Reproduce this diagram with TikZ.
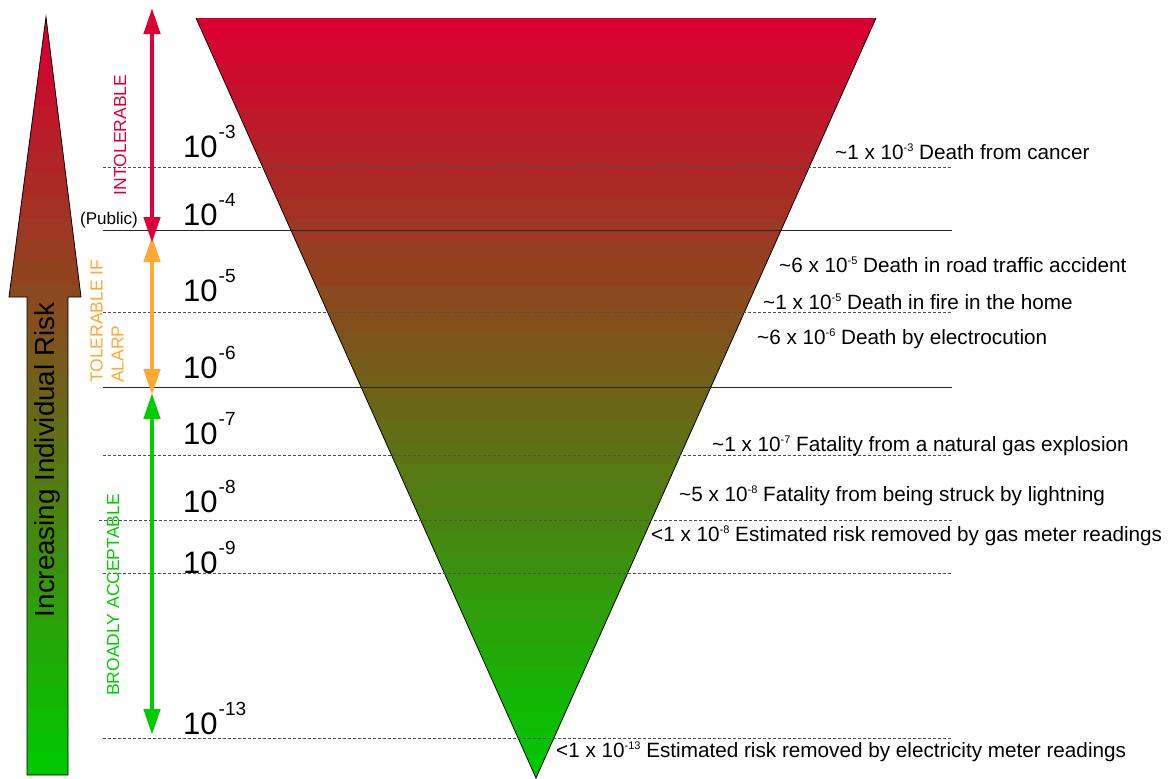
\documentclass[tikz,border=0pt]{standalone}
\usepackage{fontspec}
\setmainfont{Liberation Sans}
\usetikzlibrary{arrows.meta}
\definecolor{riskred}{RGB}{217,0,48}
\definecolor{riskgreen}{RGB}{0,200,0}
\definecolor{intol}{RGB}{220,0,55}
\definecolor{alarp}{RGB}{255,168,52}
\definecolor{broad}{RGB}{0,204,0}
\definecolor{dashgray}{RGB}{80,80,80}
\newcommand{\bigexp}[1]{\fontsize{31}{31}\selectfont 10\hspace{1pt}\raisebox{18.5pt}{\fontsize{19}{19}\selectfont -#1}}
\newcommand{\smexp}[1]{\raisebox{8pt}{\fontsize{11}{11}\selectfont #1}}
\newcommand{\tld}{\textasciitilde}
\tikzset{
  dashline/.style={dashgray, line width=1pt, dash pattern=on 3pt off 2pt},
  solidline/.style={black!85, line width=1pt},
  expolabel/.style={anchor=base west, inner sep=0pt},
  risklabel/.style={anchor=base west, inner sep=0pt, font=\fontsize{20.7}{20.7}\selectfont},
  zonelabel/.style={rotate=90, inner sep=0pt, font=\fontsize{17.5}{21}\selectfont},
  zonearrow/.style={line width=4.5pt, {Triangle[length=26pt,width=16pt]}-{Triangle[length=26pt,width=16pt]}},
}
\begin{document}
\begin{tikzpicture}[x=1pt,y=-1pt]
\useasboundingbox (0,0) rectangle (1171,779);

% ---- big inverted triangle with banded gradient
\begin{scope}
\clip (196,18) -- (876,18) -- (536,778) -- cycle;
\foreach \i in {0,...,33} {
  \pgfmathsetmacro{\pp}{100*\i/33}
  \pgfmathsetmacro{\ya}{18+\i*22.3529}
  \pgfmathsetmacro{\yb}{18+(\i+1)*22.3529+0.8}
  \colorlet{bandc}{riskgreen!\pp!riskred}
  \fill[bandc] (190,\ya) rectangle (880,\yb);
}
\end{scope}
\coordinate (triTL) at (196,18);
\coordinate (triTR) at (876,18);
\coordinate (triB) at (536,778);
\draw[black, line width=0.8pt] (triTL) -- (triB) -- (triTR);

% ---- left "Increasing Individual Risk" arrow
\begin{scope}
\clip (46,17) -- (81,297) -- (68,297) -- (68,775) -- (27,775) -- (27,297) -- (9,297) -- cycle;
\foreach \i in {0,...,33} {
  \pgfmathsetmacro{\pp}{100*\i/33}
  \pgfmathsetmacro{\ya}{17+\i*22.2941}
  \pgfmathsetmacro{\yb}{17+(\i+1)*22.2941+0.8}
  \colorlet{bandc}{riskgreen!\pp!riskred}
  \fill[bandc] (0,\ya) rectangle (90,\yb);
}
\end{scope}
\draw[black, line width=0.8pt] (46,17) -- (81,297) -- (68,297) -- (68,775) -- (27,775) -- (27,297) -- (9,297) -- cycle;
\node[rotate=90, inner sep=0pt, font=\fontsize{27.7}{28}\selectfont] (incr) at (47,460) {Increasing Individual Risk};

% ---- horizontal level lines
\coordinate (l3a) at (103,167);  \coordinate (l3b) at (952,167);
\coordinate (l4a) at (103,230);  \coordinate (l4b) at (952,230);
\coordinate (l5a) at (103,312);  \coordinate (l5b) at (952,312);
\coordinate (l6a) at (103,387);  \coordinate (l6b) at (952,387);
\coordinate (l7a) at (103,455);  \coordinate (l7b) at (952,455);
\coordinate (l8a) at (99,520);   \coordinate (l8b) at (952,520);
\coordinate (l9a) at (103,573);  \coordinate (l9b) at (952,573);
\coordinate (l13a) at (103,738); \coordinate (l13b) at (952,738);
\draw[dashline] (l3a) -- (l3b);
\draw[solidline] (l4a) -- (l4b);
\draw[dashline] (l5a) -- (l5b);
\draw[solidline] (l6a) -- (l6b);
\draw[dashline] (l7a) -- (l7b);
\draw[dashline] (l8a) -- (l8b);
\draw[dashline] (l9a) -- (l9b);
\draw[dashline] (l13a) -- (l13b);

% ---- exponent labels
\node[expolabel] (e3) at (183,157) {\bigexp{3}};
\node[expolabel] (e4) at (183,225) {\bigexp{4}};
\node[expolabel] (e5) at (183,301) {\bigexp{5}};
\node[expolabel] (e6) at (183,378) {\bigexp{6}};
\node[expolabel] (e7) at (183,444) {\bigexp{7}};
\node[expolabel] (e8) at (183,512) {\bigexp{8}};
\node[expolabel] (e9) at (183,573) {\bigexp{9}};
\node[expolabel] (e13) at (183,734) {\bigexp{13}};

% ---- zone arrows
\coordinate (ot) at (152,236); \coordinate (ob) at (152,395);
\coordinate (rt) at (152,8);   \coordinate (rb) at (152,243);
\coordinate (gt) at (152,393); \coordinate (gb) at (152,735);
\draw[zonearrow, alarp] (ot) -- (ob);
\draw[zonearrow, intol] (rt) -- (rb);
\draw[zonearrow, broad] (gt) -- (gb);

% ---- zone labels
\node[zonelabel, text=intol] (intolerable) at (120,135) {INTOLERABLE};
\node[zonelabel, text=alarp, align=left, anchor=west] (tolerable) at (107,383) {TOLERABLE IF\\ALARP};
\node[zonelabel, text=broad] (broadly) at (113,595) {BROADLY ACCEPTABLE};
\node[anchor=base west, inner sep=0pt, font=\fontsize{17}{17}\selectfont] (public) at (80,224) {(Public)};

% ---- risk examples
\node[risklabel] (r1) at (835,159) {\tld1 x 10\smexp{-3} Death from cancer};
\node[risklabel] (r2) at (779,272) {\tld6 x 10\smexp{-5} Death in road traffic accident};
\node[risklabel] (r3) at (763,309) {\tld1 x 10\smexp{-5} Death in fire in the home};
\node[risklabel] (r4) at (757,344) {\tld6 x 10\smexp{-6} Death by electrocution};
\node[risklabel] (r5) at (712,451) {\tld1 x 10\smexp{-7} Fatality from a natural gas explosion};
\node[risklabel] (r6) at (679,501) {\tld5 x 10\smexp{-8} Fatality from being struck by lightning};
\node[risklabel] (r7) at (651,541) {<1 x 10\smexp{-8} Estimated risk removed by gas meter readings};
\node[risklabel] (r8) at (556,757) {<1 x 10\smexp{-13} Estimated risk removed by electricity meter readings};
\end{tikzpicture}
\end{document}
